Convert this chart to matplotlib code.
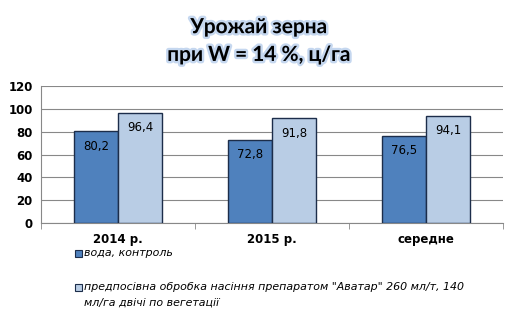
import numpy as np
import matplotlib
matplotlib.use("Agg")
import matplotlib.pyplot as plt
import matplotlib.patheffects as pe
from matplotlib.patches import Rectangle

categories = ["2014 р.", "2015 р.", "середне"]
control = [80.2, 72.8, 76.5]
avatar = [96.4, 91.8, 94.1]
series_names = ["вода, контроль",
                "предпосівна обробка насіння препаратом \"Аватар\" 260 мл/т, 140\nмл/га двічі по вегетації"]
yticks = [0, 20, 40, 60, 80, 100, 120]

dark = "#4F81BD"
light = "#B9CDE5"
edge = "#1C2D4A"

fig = plt.figure(figsize=(5.18, 3.27), dpi=100)
ax = fig.add_axes([0.0792, 0.318, 0.892, 0.419])

x = np.arange(len(categories))
w = 0.287
b1 = ax.bar(x - w / 2, control, w, color=dark, edgecolor=edge, linewidth=1, zorder=3)
b2 = ax.bar(x + w / 2, avatar, w, color=light, edgecolor=edge, linewidth=1, zorder=3)

# value labels sit inside the top of each bar
for bars, vals in [(b1, control), (b2, avatar)]:
    for r, v in zip(bars, vals):
        ax.text(r.get_x() + r.get_width() / 2, v - 13, f"{v:.1f}".replace(".", ","),
                ha="center", va="center", fontsize=8.5, color="black", zorder=4)

ax.set_xlim(-0.5, 2.5)
ax.set_ylim(0, 120)
ax.set_yticks(yticks)
ax.set_yticklabels([str(t) for t in yticks], fontsize=8.5, fontweight="bold")
ax.yaxis.grid(True, color="#888888", linewidth=0.8, zorder=0)
ax.set_axisbelow(True)
ax.set_xticks(x)
ax.set_xticklabels(categories, fontsize=8.5, fontweight="bold")
ax.set_xticks([-0.5, 0.5, 1.5, 2.5], minor=True)
ax.tick_params(axis="x", which="major", length=0, pad=7)
ax.tick_params(axis="x", which="minor", length=4, color="#888888", direction="out")
ax.tick_params(axis="y", length=0, pad=6)
for s in ["top", "right"]:
    ax.spines[s].set_visible(False)
ax.spines["left"].set_color("#888888")
ax.spines["bottom"].set_color("#888888")

glow = [pe.withStroke(linewidth=3.5, foreground="#BFD3EE", alpha=0.9)]
fig.text(0.5, 0.917, "Урожай зерна", ha="center", va="center", family="Lato",
         fontsize=15, fontweight="bold", path_effects=glow)
fig.text(0.5, 0.832, "при W = 14 %, ц/га", ha="center", va="center", family="Lato",
         fontsize=15, fontweight="bold", path_effects=glow)

# legend drawn by hand to match the original spacing
legend_rows = [(253, dark, series_names[0]), (287, light, series_names[1])]
for ypix, col, name in legend_rows:
    yf = 1 - ypix / 327
    fig.patches.append(Rectangle((75 / 518, yf - 3.5 / 327), 7 / 518, 7 / 327,
                                 transform=fig.transFigure, facecolor=col,
                                 edgecolor=edge, linewidth=0.8))
    fig.text(84 / 518, yf + 4.5 / 327, name, ha="left", va="top", fontsize=7.9,
             style="italic", linespacing=1.6)

fig.savefig("out.png", dpi=100)
